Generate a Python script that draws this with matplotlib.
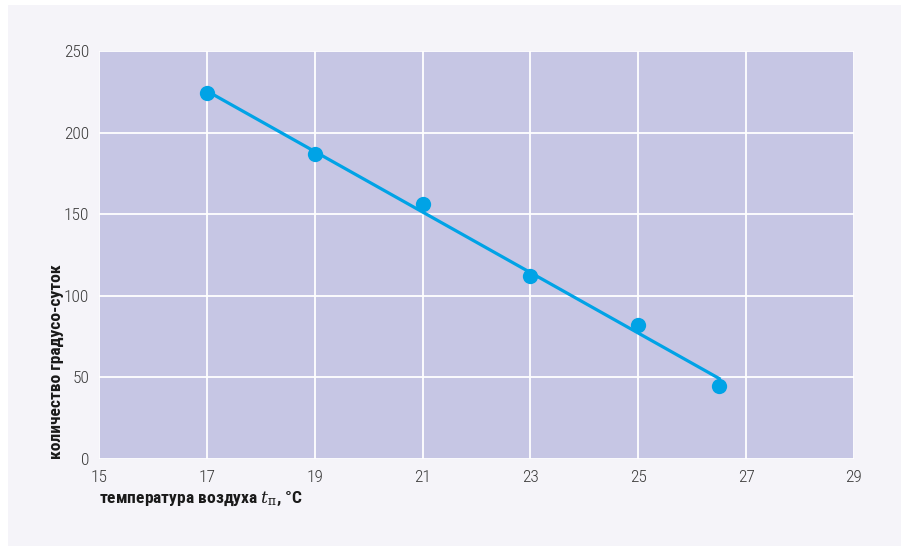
import numpy as np
import matplotlib
matplotlib.use("Agg")
import matplotlib.pyplot as plt
from matplotlib.patches import Rectangle
from matplotlib import font_manager

# Indoor air temperature, °C, and the corresponding number of degree-days
temperature = [17, 19, 21, 23, 25, 26.5]
degree_days = [224, 187, 156, 112, 82, 45]

x_ticks = [15, 17, 19, 21, 23, 25, 27, 29]
y_ticks = [0, 50, 100, 150, 200, 250]

# Use a condensed face when the system has one
fonts = font_manager.fontManager.ttflist
names = {f.name for f in fonts}
if "Roboto Condensed" in names:
    face = ["Roboto Condensed", "DejaVu Sans"]
elif "Liberation Sans Narrow" in names:
    face = ["Liberation Sans Narrow", "DejaVu Sans"]
else:
    face = ["Roboto", "DejaVu Sans"]

plt.rcParams["font.family"] = face
plt.rcParams["mathtext.fontset"] = "dejavuserif"

W, H = 901, 546
fig = plt.figure(figsize=(W / 100, H / 100), dpi=100, facecolor="white")

# light panel behind the chart
fig.patches.append(Rectangle((8 / W, 0), 1 - 8 / W, 1 - 5 / H,
                             transform=fig.transFigure, facecolor="#f5f4f9",
                             edgecolor="none", zorder=-10))

left, right, top, bottom = 99, 854, 51, 459
ax = fig.add_axes([left / W, 1 - bottom / H, (right - left) / W, (bottom - top) / H])
ax.set_facecolor("#c6c6e4")
ax.set_xlim(15, 29)
ax.set_ylim(0, 250)
ax.set_xticks(x_ticks)
ax.set_yticks(y_ticks)
ax.grid(True, color="white", linewidth=1.3)
ax.set_axisbelow(True)
for s in ax.spines.values():
    s.set_visible(False)
ax.tick_params(axis="x", length=0, pad=8, labelsize=12.5, labelcolor="#3a3a3a")
ax.tick_params(axis="y", length=0, pad=7, labelsize=12.5, labelcolor="#3a3a3a")
for lab in ax.get_xticklabels() + ax.get_yticklabels():
    lab.set_fontweight("light")

# linear trend through the measurements
coef = np.polyfit(temperature, degree_days, 1)
xt = np.array([min(temperature), max(temperature)])
ax.plot(xt, np.polyval(coef, xt), color="#00a3e6", linewidth=2.3, zorder=3)
ax.plot(temperature, degree_days, "o", color="#00a3e6", markersize=11,
        markeredgewidth=0, zorder=4)

fig.text(57 / W, 1 - bottom / H, "количество градусо-суток", rotation=90,
         ha="center", va="bottom", fontsize=12.6, fontweight="bold",
         color="#1a1a1a")
fig.text(left / W, 1 - 499 / H, r"температура воздуха $t_{\mathrm{п}}$, °C",
         ha="left", va="center", fontsize=12.6, fontweight="bold",
         color="#1a1a1a")

fig.savefig("out.png", dpi=100, facecolor=fig.get_facecolor())
